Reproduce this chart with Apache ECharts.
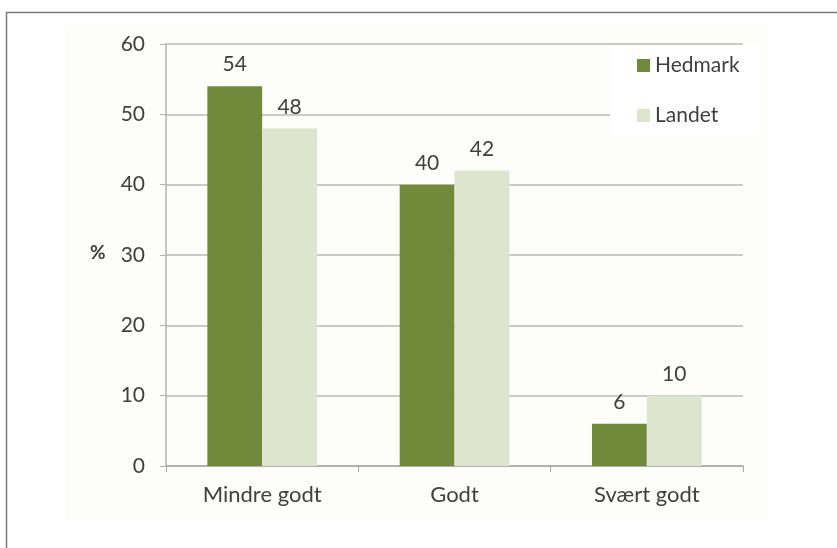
<!DOCTYPE html>
<html><head><meta charset="utf-8">
<script src="https://cdn.jsdelivr.net/npm/echarts@6/dist/echarts.min.js"></script>
<style>html,body{margin:0;padding:0;background:#fff}#c{width:837px;height:548px}</style>
</head><body><div id="c"></div>
<script>
const categories = ['Mindre godt', 'Godt', 'Svært godt'];
const hedmark = [54, 40, 6];
const landet = [48, 42, 10];
const seriesNames = ['Hedmark', 'Landet'];
const yTicks = [0, 10, 20, 30, 40, 50, 60];

const font = 'Lato, "Open Sans", sans-serif';
const chart = echarts.init(document.getElementById('c'), null, {renderer: 'canvas'});
chart.setOption({
  backgroundColor: '#fff',
  animation: false,
  textStyle: {fontFamily: font},
  graphic: [
    {type: 'rect', shape: {x: 65, y: 25, width: 703, height: 495}, style: {fill: '#fdfdfa'}, z: -10, silent: true},
    {type: 'rect', shape: {x: 6.5, y: 12.5, width: 845, height: 545}, style: {fill: 'none', stroke: '#7a7a7a', lineWidth: 1.5}, z: 100, silent: true},
    {type: 'text', left: 90, top: 243, style: {text: '%', fontSize: 19, fontWeight: 'bold', fill: '#404040', fontFamily: font}}
  ],
  grid: {left: 166, right: 94, top: 44, bottom: 82, containLabel: false},
  legend: {
    data: seriesNames, orient: 'vertical', left: 610, top: 45,
    padding: [10, 20, 10, 27], backgroundColor: '#fff',
    itemWidth: 13, itemHeight: 13, itemGap: 29,
    textStyle: {fontSize: 21, lineHeight: 21, color: '#404040', fontFamily: font}, icon: 'rect'
  },
  xAxis: {
    type: 'category', data: categories,
    axisLine: {lineStyle: {color: '#a8a8a8', width: 1.5}},
    axisTick: {show: true, length: 6, lineStyle: {color: '#a8a8a8'}},
    axisLabel: {fontSize: 22, color: '#404040', margin: 18, fontFamily: font}
  },
  yAxis: {
    type: 'value', min: yTicks[0], max: yTicks[yTicks.length - 1], interval: 10,
    axisLine: {show: true, lineStyle: {color: '#b0b0b0', width: 1.5}},
    axisTick: {show: true, length: 6, lineStyle: {color: '#b0b0b0'}},
    axisLabel: {fontSize: 21, color: '#404040', margin: 21, fontFamily: font},
    splitLine: {lineStyle: {color: '#b8b8b8', width: 1.5}}
  },
  series: [
    {name: seriesNames[0], type: 'bar', data: hedmark, barGap: '0%', barCategoryGap: '43%',
     itemStyle: {color: '#6f8a3a'},
     label: {show: true, position: 'top', distance: 11, fontSize: 21, color: '#404040', fontFamily: font}},
    {name: seriesNames[1], type: 'bar', data: landet, barGap: '0%', barCategoryGap: '43%',
     itemStyle: {color: '#dde5cf'},
     label: {show: true, position: 'top', distance: 11, fontSize: 21, color: '#404040', fontFamily: font}}
  ]
});
</script></body></html>
